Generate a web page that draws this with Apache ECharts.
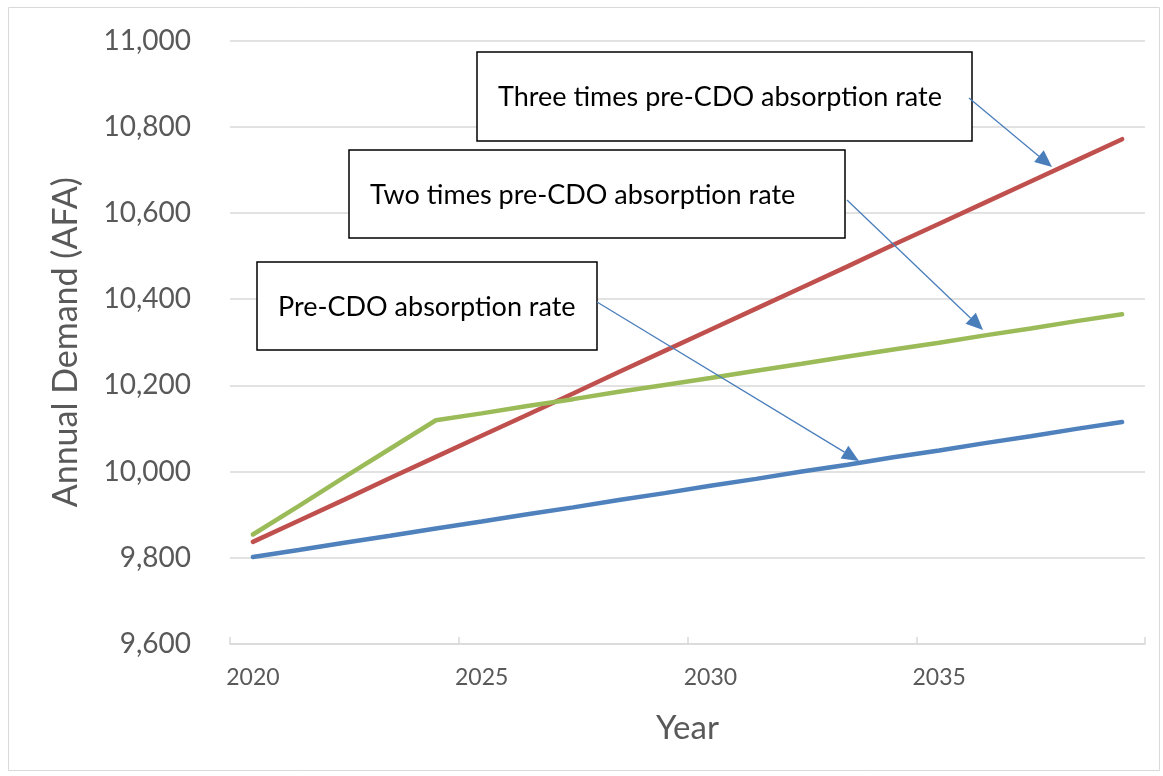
<!DOCTYPE html>
<html>
<head>
<meta charset="utf-8">
<script src="https://cdn.jsdelivr.net/npm/echarts@6/dist/echarts.min.js"></script>
<style>
html,body{margin:0;padding:0;background:#fff;}
#chart{width:1163px;height:776px;}
</style>
</head>
<body>
<div id="chart"></div>
<script>
const years = ['2020','2021','2022','2023','2024','2025','2026','2027','2028','2029','2030','2031','2032','2033','2034','2035','2036','2037','2038','2039'];
const preCDO = [9802,9818,9835,9851,9868,9884,9901,9917,9934,9950,9967,9983,10000,10016,10033,10049,10066,10082,10099,10115];
const threeTimes = [9837,9886,9935,9985,10034,10083,10132,10181,10231,10280,10329,10378,10427,10476,10526,10575,10624,10673,10722,10771];
const twoTimes = [9854,9920,9987,10053,10119,10135,10152,10168,10185,10201,10217,10234,10250,10267,10283,10299,10316,10332,10349,10365];
const yTicks = { min: 9600, max: 11000, interval: 200 };
const annotations = [
  { text: 'Three times pre-CDO absorption rate', box: [477, 52, 495, 89], from: [969, 98], to: [1052, 167] },
  { text: 'Two times pre-CDO absorption rate', box: [349, 150, 496, 88], from: [847, 200], to: [983, 330] },
  { text: 'Pre-CDO absorption rate', box: [257, 262, 340, 88], from: [597, 302], to: [859, 461] }
];

const FONT = 'Lato, "Open Sans", sans-serif';
const chart = echarts.init(document.getElementById('chart'));

function arrow(from, to, color) {
  const dx = to[0] - from[0], dy = to[1] - from[1];
  const len = Math.sqrt(dx*dx + dy*dy);
  const ux = dx/len, uy = dy/len;
  const hl = 17, hw = 7.5;
  const bx = to[0] - ux*hl, by = to[1] - uy*hl;
  const px = -uy, py = ux;
  return [
    { type: 'line', shape: { x1: from[0], y1: from[1], x2: bx, y2: by }, style: { stroke: color, lineWidth: 1.3 }, z: 20 },
    { type: 'polygon', shape: { points: [[to[0], to[1]], [bx + px*hw, by + py*hw], [bx - px*hw, by - py*hw]] }, style: { fill: color }, z: 20 }
  ];
}

const graphics = [
  { type: 'rect', shape: { x: 8.5, y: 7.5, width: 1151, height: 763 }, style: { fill: 'none', stroke: '#d9d9d9', lineWidth: 1 }, z: -1 }
];
annotations.forEach(a => {
  graphics.push({ type: 'rect', shape: { x: a.box[0], y: a.box[1], width: a.box[2], height: a.box[3] }, style: { fill: '#fff', stroke: '#000', lineWidth: 1.5 }, z: 15 });
  graphics.push({ type: 'text', x: a.box[0] + 21, y: a.box[1] + a.box[3]/2 + 1, style: { text: a.text, fill: '#000', font: '27px ' + FONT, verticalAlign: 'middle', align: 'left' }, z: 16 });
  arrow(a.from, a.to, '#4a7ebb').forEach(g => graphics.push(g));
});

chart.setOption({
  animation: false,
  backgroundColor: '#fff',
  grid: { left: 230, right: 18, top: 40.5, bottom: 132, containLabel: false },
  xAxis: {
    type: 'category',
    data: years,
    boundaryGap: true,
    name: 'Year',
    nameLocation: 'middle',
    nameGap: 68,
    nameTextStyle: { fontSize: 33, color: '#595959', fontFamily: FONT },
    axisLine: { lineStyle: { color: '#d9d9d9', width: 1.5 } },
    axisTick: { show: true, inside: true, length: 7, interval: 4, lineStyle: { color: '#d9d9d9', width: 1.5 } },
    axisLabel: { interval: 4, fontSize: 23, color: '#595959', fontFamily: FONT, margin: 22 },
    splitLine: { show: false }
  },
  yAxis: {
    type: 'value',
    min: yTicks.min, max: yTicks.max, interval: yTicks.interval,
    name: 'Annual Demand (AFA)',
    nameLocation: 'middle',
    nameGap: 147,
    nameTextStyle: { fontSize: 34, color: '#595959', fontFamily: FONT },
    axisLine: { show: false },
    axisTick: { show: false },
    axisLabel: { fontSize: 28, color: '#595959', fontFamily: FONT, margin: 39, formatter: v => v.toLocaleString('en-US') },
    splitLine: { lineStyle: { color: '#d9d9d9', width: 1.5 } }
  },
  series: [
    { name: 'Pre-CDO absorption rate', type: 'line', data: preCDO, symbol: 'none', lineStyle: { color: '#4f81bd', width: 4.5, cap: 'round' }, itemStyle: { color: '#4f81bd' } },
    { name: 'Three times pre-CDO absorption rate', type: 'line', data: threeTimes, symbol: 'none', lineStyle: { color: '#c0504d', width: 4.5, cap: 'round' }, itemStyle: { color: '#c0504d' } },
    { name: 'Two times pre-CDO absorption rate', type: 'line', data: twoTimes, symbol: 'none', lineStyle: { color: '#9bbb59', width: 4.5, cap: 'round' }, itemStyle: { color: '#9bbb59' } }
  ],
  graphic: graphics
});
</script>
</body>
</html>
